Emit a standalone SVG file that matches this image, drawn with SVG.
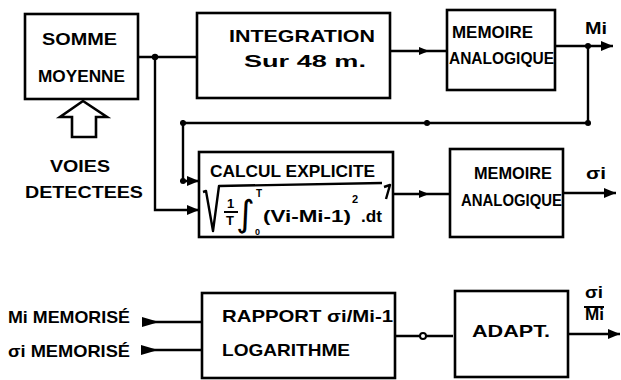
<svg xmlns="http://www.w3.org/2000/svg" width="621" height="380" viewBox="0 0 621 380">
<defs>
<marker id="ah" viewBox="0 0 12 10" refX="12" refY="5" markerWidth="12" markerHeight="10" markerUnits="userSpaceOnUse" orient="auto">
<path d="M0,0 L12,5 L0,10 Z" fill="#000"/>
</marker>
<marker id="mid" viewBox="0 0 10 8" refX="5" refY="4" markerWidth="10" markerHeight="8" markerUnits="userSpaceOnUse" orient="auto">
<path d="M0,0 L10,4 L0,8 Z" fill="#000"/>
</marker>
<marker id="dot" viewBox="0 0 8 8" refX="4" refY="4" markerWidth="7" markerHeight="7" markerUnits="userSpaceOnUse">
<circle cx="4" cy="4" r="3.5" fill="#000"/>
</marker>
</defs>
<style>
.box{fill:#fff;stroke:#000;stroke-width:2.6}
.ln{fill:none;stroke:#000;stroke-width:2.4}
.t{font-family:"Liberation Sans",Arial,sans-serif;font-weight:bold;font-size:17px;fill:#000}
.f{font-family:"Liberation Sans",Arial,sans-serif;font-weight:bold;fill:#000}
</style>
<rect width="621" height="380" fill="#fff"/>

<g id="connectors">
<path class="ln" d="M138,57 L197,57"/>
<path class="ln" d="M155,57 L155,210 L199,210" marker-end="url(#ah)"/>
<circle cx="155" cy="57" r="3.2" fill="#000"/>
<path class="ln" d="M390,51 L424,51 L447,51" marker-mid="url(#mid)"/>
<path class="ln" d="M555,46 L613,46" marker-end="url(#ah)"/>
<circle cx="588" cy="46" r="3" fill="#000"/>
<path class="ln" d="M588,46 L588,123 L427,123 L183,123 L183,181 L199,181" marker-mid="url(#dot)" marker-end="url(#ah)"/>
<path class="ln" d="M393,194 L424,194 L450,194" marker-mid="url(#mid)"/>
<path class="ln" d="M563,193 L616,193" marker-end="url(#ah)"/>
<path class="ln" d="M202,322 L142,322"/>
<path d="M142,317 L159,322 L142,327 Z" fill="#000"/>
<path class="ln" d="M202,350 L141,350"/>
<path d="M141,345 L158,350 L141,355 Z" fill="#000"/>
<path class="ln" d="M395,336 L453,336"/>
<circle cx="423" cy="336" r="3" fill="#fff" stroke="#000" stroke-width="2"/>
<path class="ln" d="M568,334 L620,334" marker-end="url(#ah)"/>
<path fill="#fff" stroke="#000" stroke-width="2.6" stroke-linejoin="miter" d="M83,101 L107,117 L96,117 L96,137 L72,137 L72,117 L60,117 Z"/>
</g>

<g id="somme">
<rect class="box" x="25" y="14" width="113" height="85"/>
<text class="t" x="42" y="45" textLength="75" lengthAdjust="spacingAndGlyphs">SOMME</text>
<text class="t" x="38" y="82" textLength="87" lengthAdjust="spacingAndGlyphs">MOYENNE</text>
</g>

<g id="voies">
<text class="t" x="50" y="172" textLength="60" lengthAdjust="spacingAndGlyphs">VOIES</text>
<text class="t" x="25" y="198" textLength="118" lengthAdjust="spacingAndGlyphs">DETECTEES</text>
</g>

<g id="integration">
<rect class="box" x="197" y="13" width="193" height="85"/>
<text class="t" x="229" y="42" textLength="146" lengthAdjust="spacingAndGlyphs">INTEGRATION</text>
<text class="t" x="244" y="67" textLength="122" lengthAdjust="spacingAndGlyphs">Sur 48 m.</text>
</g>

<g id="memoire1">
<rect class="box" x="447" y="10" width="108" height="80"/>
<text class="t" x="452" y="38" font-size="15" textLength="81" lengthAdjust="spacingAndGlyphs">MEMOIRE</text>
<text class="t" x="449" y="64" font-size="15" textLength="105" lengthAdjust="spacingAndGlyphs">ANALOGIQUE</text>
</g>
<text class="t" x="585" y="34" textLength="22" lengthAdjust="spacingAndGlyphs">Mi</text>

<g id="calcul">
<rect class="box" x="199" y="152" width="194" height="85"/>
<text class="t" x="210" y="177" font-size="15" textLength="165" lengthAdjust="spacingAndGlyphs">CALCUL EXPLICITE</text>
<path class="ln" stroke-width="2.2" stroke-linejoin="round" d="M203,192 L206,191 L213,231 L219,186 L382,183 M384,187 L390,185 L386,199"/>
<text class="f" x="227" y="208" font-size="13">1</text>
<line x1="224" y1="212" x2="238" y2="212" stroke="#000" stroke-width="2"/>
<text class="f" x="226" y="225" font-size="13">T</text>
<text x="236" y="226" font-family="DejaVu Sans, sans-serif" font-size="36">∫</text>
<text class="f" x="256" y="197" font-size="10">T</text>
<text class="f" x="255" y="235" font-size="9">0</text>
<text class="f" x="263" y="222" font-size="17" textLength="88" lengthAdjust="spacingAndGlyphs">(Vi-Mi-1)</text>
<text class="f" x="352" y="203" font-size="11">2</text>
<text class="f" x="361" y="222" font-size="17" textLength="21" lengthAdjust="spacingAndGlyphs">.dt</text>
</g>

<g id="memoire2">
<rect class="box" x="450" y="149" width="113" height="88"/>
<text class="t" x="474" y="179" font-size="15" textLength="78" lengthAdjust="spacingAndGlyphs">MEMOIRE</text>
<text class="t" x="461" y="206" font-size="15" textLength="101" lengthAdjust="spacingAndGlyphs">ANALOGIQUE</text>
</g>
<text class="t" x="586" y="179" textLength="20" lengthAdjust="spacingAndGlyphs">σi</text>

<g id="inputs">
<text class="t" x="8" y="323" textLength="122" lengthAdjust="spacingAndGlyphs">Mi MEMORISÉ</text>
<text class="t" x="8" y="357" textLength="122" lengthAdjust="spacingAndGlyphs">σi MEMORISÉ</text>
</g>

<g id="rapport">
<rect class="box" x="202" y="293" width="193" height="85"/>
<text class="t" x="222" y="322" textLength="171" lengthAdjust="spacingAndGlyphs">RAPPORT σi/Mi-1</text>
<text class="t" x="222" y="356" textLength="128" lengthAdjust="spacingAndGlyphs">LOGARITHME</text>
</g>

<g id="adapt">
<rect class="box" x="455" y="291" width="113" height="86"/>
<text class="t" x="472" y="337" textLength="78" lengthAdjust="spacingAndGlyphs">ADAPT.</text>
</g>
<g id="ratio">
<text class="t" x="585" y="298" font-size="14" textLength="18" lengthAdjust="spacingAndGlyphs">σi</text>
<line x1="584" y1="307" x2="604" y2="307" stroke="#000" stroke-width="2"/>
<text class="t" x="585" y="320" font-size="14" textLength="19" lengthAdjust="spacingAndGlyphs">Mi</text>
</g>
</svg>
